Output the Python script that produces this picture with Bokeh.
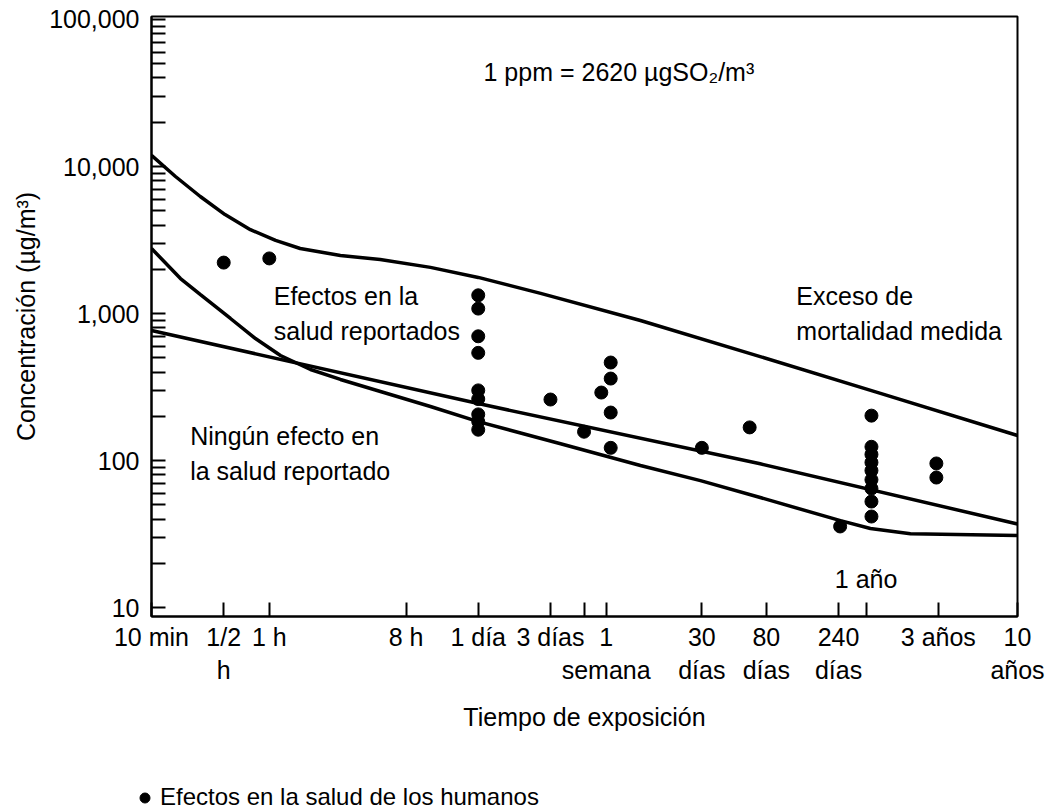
from bokeh.plotting import figure
from bokeh.layouts import column
from bokeh.models import FixedTicker, Legend, LegendItem, NumeralTickFormatter, Range1d
from bokeh.core.properties import value
from bokeh.embed import file_html
from bokeh.resources import INLINE

FONT = "Liberation Sans"
FS = "25px"

# --- data (hours of exposure, concentration in ug/m3) ---
upper_t = [0.1667, 0.24, 0.35, 0.51, 0.75, 1.1, 1.6, 2.95, 5.4, 11.6, 24, 62, 283, 1750, 10900, 87600]
upper_c = [11900, 8550, 6250, 4710, 3720, 3140, 2770, 2480, 2330, 2060, 1760, 1370, 896, 509, 286, 148]

middle_t = [0.1667, 24, 1750, 87600]
middle_c = [766, 244, 95, 37]

lower_t = [0.1667, 0.259, 0.351, 0.554, 0.81, 1.185, 1.87, 2.95, 5.42, 11.6, 24, 84, 283, 705, 1750, 5930, 9350, 17200, 87600]
lower_c = [2770, 1730, 1346, 925, 676, 518, 416, 356, 295, 233, 184, 130, 92.5, 73, 56, 39, 34.5, 31.8, 30.9]

dot_t = [0.5, 1,
         24, 24, 24, 24, 24, 24, 24, 24, 24,
         72, 120, 156, 180, 180, 180, 180,
         720, 1490, 5900,
         9500, 9500, 9500, 9500, 9500, 9500, 9500, 9500, 9500,
         25500, 25500]
dot_c = [2220, 2370,
         1330, 1080, 700, 540, 300, 262, 206, 184, 162,
         260, 157, 290, 464, 361, 212, 122,
         122, 168, 35.6,
         202, 124, 110, 97, 85.5, 74, 64.5, 52.6, 41.6,
         95.5, 76.6]

x_ticks = [1/6, 0.5, 1, 8, 24, 72, 120, 168, 720, 1920, 5760, 8760, 26280, 87600]
x_labels = ["10 min", "1/2\nh", "1 h", "8 h", "1 día", "3 días", "", "1\nsemana",
            "30\ndías", "80\ndías", "240\ndías", "", "3 años", "10\naños"]
y_ticks = [10, 100, 1000, 10000, 100000]
y_minor = [m * 10 ** k for k in range(1, 5) for m in range(2, 10)]

notes_t = [26, 1.07, 0.30, 3030, 8760]
notes_c = [43600, 1000, 112, 1007, 15.7]
notes_txt = ["1 ppm = 2620 µgSO₂/m³", "Efectos en la\nsalud reportados",
             "Ningún efecto en\nla salud reportado", "Exceso de\nmortalidad medida", "1 año"]
notes_align = ["left", "left", "left", "left", "center"]

legend_label = "Efectos en la salud de los humanos"

p = figure(width=1050, height=770, x_axis_type="log", y_axis_type="log",
           x_range=(1/6, 87600), y_range=(8.69, 104800),
           output_backend="svg", toolbar_location=None,
           min_border_left=151, min_border_right=33, min_border_top=16, min_border_bottom=154)
p.frame_align = False
p.background_fill_color = "white"
p.border_fill_color = "white"
p.outline_line_color = "black"
p.outline_line_width = 2
p.outline_line_alpha = 1
p.xgrid.visible = False
p.ygrid.visible = False

for ax in (p.xaxis[0], p.yaxis[0]):
    ax.axis_line_width = 2
    ax.major_tick_line_width = 2
    ax.minor_tick_line_width = 2
    ax.major_tick_in = 14
    ax.major_tick_out = 0
    ax.major_label_text_font = FONT
    ax.major_label_text_font_size = FS
    ax.major_label_text_color = "black"
    ax.axis_label_text_font = FONT
    ax.axis_label_text_font_size = FS
    ax.axis_label_text_font_style = "normal"
    ax.axis_label_text_color = "black"

xa = p.xaxis[0]
xa.ticker = FixedTicker(ticks=x_ticks, minor_ticks=[])
xa.major_label_overrides = dict(zip(x_ticks, x_labels))
xa.minor_tick_line_color = None
xa.major_label_standoff = 6
xa.axis_label = "Tiempo de exposición"
xa.axis_label_standoff = 16

ya = p.yaxis[0]
ya.ticker = FixedTicker(ticks=y_ticks, minor_ticks=y_minor)
ya.formatter = NumeralTickFormatter(format="0,0")
ya.minor_tick_in = 14
ya.minor_tick_out = 0
ya.major_label_standoff = 12
ya.axis_label = "Concentración (µg/m³)"
ya.axis_label_standoff = 6

for t, c in ((upper_t, upper_c), (middle_t, middle_c), (lower_t, lower_c)):
    p.line(t, c, line_color="black", line_width=3.5)

p.scatter(dot_t, dot_c, size=13, color="black")

p.text(x=notes_t, y=notes_c, text=notes_txt, text_align=notes_align,
       text_baseline="middle", text_font=value(FONT), text_font_size=FS,
       text_line_height=1.25, text_color="black")

# legend strip under the chart (its key renderer uses the same dots, kept out of view)
leg = figure(width=1050, height=41, x_range=Range1d(-2, -1), y_range=Range1d(-2, -1),
             output_backend="svg", toolbar_location=None, min_border=0)
leg.frame_align = False
leg.axis.visible = False
leg.xgrid.visible = False
leg.ygrid.visible = False
leg.outline_line_color = None
leg.background_fill_color = "white"
leg.border_fill_color = "white"
key = leg.scatter(dot_t, dot_c, size=13, color="black")
legend = Legend(items=[LegendItem(label=legend_label, renderers=[key])],
                location=(132, 0), glyph_width=25, glyph_height=25, padding=0, margin=0,
                spacing=0, border_line_color=None, background_fill_alpha=0,
                label_text_font=FONT, label_text_font_size="24px", label_text_color="black",
                label_standoff=3)
leg.add_layout(legend)

layout = column(p, leg, spacing=0)
open("out.html", "w").write(file_html(layout, INLINE))
